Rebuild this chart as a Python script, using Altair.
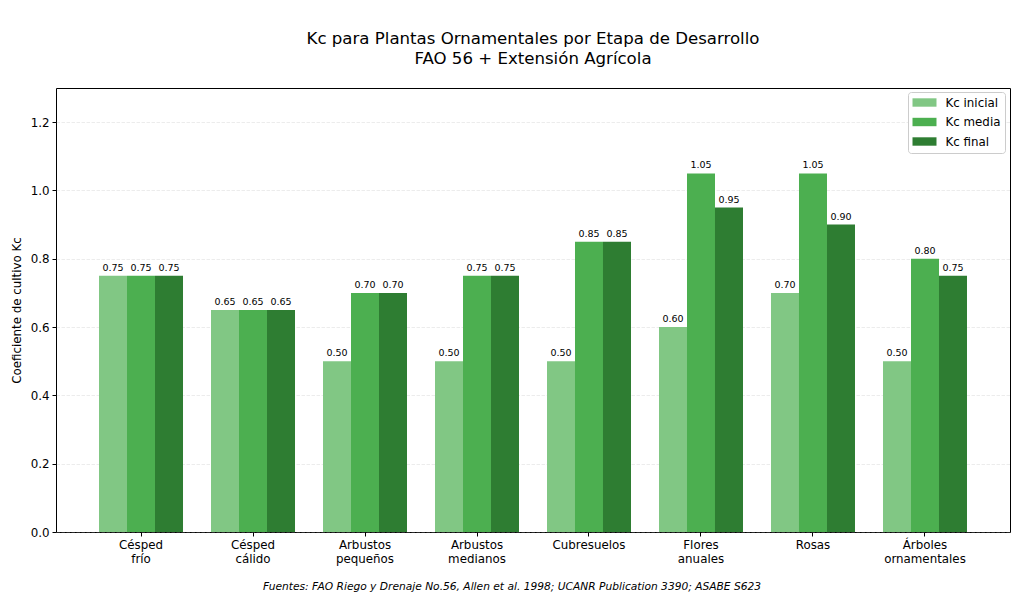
import altair as alt
import pandas as pd

# Plant groups and crop coefficients per growth stage
plantas = ["Césped frío", "Césped cálido", "Arbustos pequeños", "Arbustos medianos",
           "Cubresuelos", "Flores anuales", "Rosas", "Árboles ornamentales"]
kc_inicial = [0.75, 0.65, 0.50, 0.50, 0.50, 0.60, 0.70, 0.50]
kc_media = [0.75, 0.65, 0.70, 0.75, 0.85, 1.05, 1.05, 0.80]
kc_final = [0.75, 0.65, 0.70, 0.75, 0.85, 0.95, 0.90, 0.75]

etapas = ["Kc inicial", "Kc media", "Kc final"]
colores = ["#81c784", "#4caf50", "#2e7d32"]

fuente = "Fuentes: FAO Riego y Drenaje No.56, Allen et al. 1998; UCANR Publication 3390; ASABE S623"

rows = []
for etapa, valores in zip(etapas, [kc_inicial, kc_media, kc_final]):
    for planta, v in zip(plantas, valores):
        rows.append({"Planta": planta, "Etapa": etapa, "Kc": v})
df = pd.DataFrame(rows)

W, H = 954, 444
FONT = "DejaVu Sans"

x_enc = alt.X("Planta:N", sort=plantas, title=None,
              scale=alt.Scale(paddingInner=0.25, paddingOuter=0.384),
              axis=alt.Axis(labelAngle=0, labelExpr="split(datum.label, ' ')",
                            labelFontSize=11.85, labelLineHeight=14, labelColor="#000",
                            tickSize=4, tickColor="#000", labelPadding=3,
                            domain=False, grid=False))
xo_enc = alt.XOffset("Etapa:N", sort=etapas, scale=alt.Scale(paddingInner=0, paddingOuter=0))
y_enc = alt.Y("Kc:Q", title="Coeficiente de cultivo Kc",
              scale=alt.Scale(domain=[0, 1.3], nice=False, zero=True),
              axis=alt.Axis(values=[0, 0.2, 0.4, 0.6, 0.8, 1.0, 1.2], format=".1f",
                            labelFontSize=11.85, labelColor="#000", tickSize=4,
                            tickColor="#000", labelPadding=3, domain=False,
                            titleFontSize=11.85, titleFontWeight="normal",
                            titleColor="#000", titlePadding=8,
                            grid=True, gridColor="#b0b0b0", gridOpacity=0.3,
                            gridDash=[3.5, 1.5], gridWidth=0.8))

# wide flat rectangle used as the legend swatch
swatch = "M-2,-0.7L2,-0.7L2,0.7L-2,0.7Z"

barras = alt.Chart(df).mark_bar(width={"band": 1}).encode(
    x=x_enc,
    xOffset=xo_enc,
    y=y_enc,
    color=alt.Color("Etapa:N", sort=etapas,
                    scale=alt.Scale(domain=etapas, range=colores),
                    legend=alt.Legend(title=None, orient="none", legendX=852, legendY=4,
                                      symbolType=swatch, symbolSize=144,
                                      symbolStrokeWidth=0, symbolOffset=6,
                                      labelFontSize=11.85, labelColor="#000",
                                      labelOffset=15, rowPadding=6.5, padding=4.5,
                                      strokeColor="#cccccc", fillColor="white",
                                      cornerRadius=3)),
)

etiquetas = alt.Chart(df).mark_text(baseline="bottom", dy=-3, fontSize=9.5, color="#000").encode(
    x=alt.X("Planta:N", sort=plantas),
    xOffset=alt.XOffset("Etapa:N", sort=etapas),
    y="Kc:Q",
    text=alt.Text("Kc:Q", format=".2f"),
)

nota = alt.Chart(pd.DataFrame({"t": [fuente]})).mark_text(
    fontStyle="italic", fontSize=10.67, color="#000", align="center", baseline="middle",
).encode(x=alt.value(456), y=alt.value(499), text="t:N")

chart = alt.layer(barras, etiquetas, nota).properties(
    width=W, height=H,
    title=alt.TitleParams(
        ["Kc para Plantas Ornamentales por Etapa de Desarrollo", "FAO 56 + Extensión Agrícola"],
        fontSize=16.6, fontWeight="normal", color="#000", anchor="middle",
        lineHeight=20, offset=20, font=FONT),
    autosize=alt.AutoSizeParams(type="none"),
    padding={"left": 56, "top": 88, "right": 14, "bottom": 65},
).configure(font=FONT).configure_view(stroke="#000", strokeWidth=1)

chart.save("out.html", embed_options={"renderer": "svg", "actions": False})
